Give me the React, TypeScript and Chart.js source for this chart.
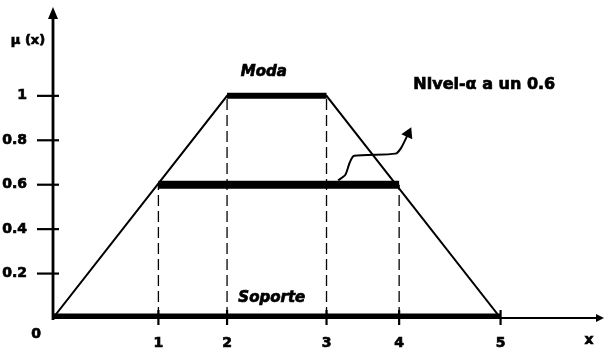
import React, { useEffect, useRef } from 'react';
import { Chart, LinearScale, registerables } from 'chart.js';

// ---------- data ----------
const TRAPEZOID_X = [0, 2, 3, 5];
const TRAPEZOID_Y = [0, 1, 1, 0];
const SUPPORT_X = [0, 5];
const SUPPORT_LEVEL = 0;
const CORE_X = [2, 3];
const CORE_LEVEL = 1;
const ALPHA_CUT_X = [1, 4];
const ALPHA_LEVEL = 0.6;
const GUIDE_X = [1, 2, 3, 4];
const GUIDE_TOP = [0.6, 1, 1, 0.6];
const X_TICKS = [1, 2, 3, 4, 5];
const Y_TICKS = [0.2, 0.4, 0.6, 0.8, 1];
const Y_TICK_LABELS = ['0.2', '0.4', '0.6', '0.8', '1'];
const POINTER_X = [3.16, 3.26, 3.32, 3.38, 3.95, 4.02, 4.09];
const POINTER_Y = [0.62, 0.645, 0.7, 0.73, 0.74, 0.766, 0.83];

const TEXT_MODA = 'Moda';
const TEXT_SOPORTE = 'Soporte';
const TEXT_NIVEL = 'Nivel-α a un 0.6';
const TEXT_Y_TITLE = 'μ (x)';
const TEXT_X_TITLE = 'x';
const TEXT_ORIGIN = '0';

// annotation anchors (data coordinates)
const MODA_AT = [2.37, 1.105];
const SOPORTE_AT = [2.45, 0.09];
const NIVEL_AT = [4.14, 1.05];

// ---------- schematic (non-uniform) x axis layout ----------
const X_MAX = 6;
const X_SCALE_BREAKS = [0, 1, 2, 3, 4, 5, 6];
const X_SCALE_FRACTIONS = [0, 0.1913, 0.3159, 0.4964, 0.6282, 0.8123, 1];

function valueToFraction(v: number): number {
  const b = X_SCALE_BREAKS, f = X_SCALE_FRACTIONS;
  if (v <= b[0]) return f[0] + ((v - b[0]) * (f[1] - f[0])) / (b[1] - b[0]);
  for (let i = 1; i < b.length; i++) {
    if (v <= b[i]) {
      const t = (v - b[i - 1]) / (b[i] - b[i - 1]);
      return f[i - 1] + t * (f[i] - f[i - 1]);
    }
  }
  const n = b.length - 1;
  return f[n] + ((v - b[n]) * (f[n] - f[n - 1])) / (b[n] - b[n - 1]);
}
function fractionToValue(d: number): number {
  const b = X_SCALE_BREAKS, f = X_SCALE_FRACTIONS;
  for (let i = 1; i < f.length; i++) {
    if (d <= f[i]) {
      const t = (d - f[i - 1]) / (f[i] - f[i - 1]);
      return b[i - 1] + t * (b[i] - b[i - 1]);
    }
  }
  return b[b.length - 1];
}

class PiecewiseScale extends LinearScale {
  static id = 'piecewise';
  static defaults = LinearScale.defaults;
  getPixelForValue(value: any) {
    if (value === null || value === undefined || isNaN(value)) return NaN;
    return (this as any).getPixelForDecimal(valueToFraction(+value));
  }
  getValueForPixel(pixel: number) {
    return fractionToValue((this as any).getDecimalForPixel(pixel));
  }
}

Chart.register(...registerables, PiecewiseScale as any);

const pts = (xs: number[], ys: number[]) => xs.map((v, i) => ({ x: v, y: ys[i] }));

const decorPlugin = {
  id: 'decor',
  afterDraw(chart: any) {
    const { ctx, chartArea } = chart;
    const x = chart.scales.x;
    const y = chart.scales.y;
    const x0 = x.getPixelForValue(0);
    const y0 = y.getPixelForValue(0);
    const yTop = chartArea.top;
    const xEnd = chartArea.right;
    ctx.save();
    ctx.strokeStyle = '#000';
    ctx.fillStyle = '#000';
    ctx.lineCap = 'butt';
    const line = (a: number, b: number, c: number, d: number) => {
      ctx.beginPath();
      ctx.moveTo(a, b);
      ctx.lineTo(c, d);
      ctx.stroke();
    };
    // y axis with arrow
    ctx.lineWidth = 2.8;
    line(x0, y0 + 2, x0, yTop + 10);
    ctx.beginPath();
    ctx.moveTo(x0, yTop);
    ctx.lineTo(x0 - 5, yTop + 12);
    ctx.lineTo(x0 + 5, yTop + 12);
    ctx.closePath();
    ctx.fill();
    // x axis with arrow
    ctx.lineWidth = 2;
    line(x0, y0, xEnd - 5, y0);
    ctx.beginPath();
    ctx.moveTo(xEnd, y0);
    ctx.lineTo(xEnd - 8, y0 - 4);
    ctx.lineTo(xEnd - 8, y0 + 4);
    ctx.closePath();
    ctx.fill();
    // y tick marks
    ctx.lineWidth = 2.2;
    Y_TICKS.forEach((v) => {
      const py = y.getPixelForValue(v);
      line(x0 - 16, py, x0 + 6, py);
    });
    // x tick marks
    X_TICKS.forEach((v) => {
      const px = x.getPixelForValue(v);
      line(px, y0 - 8, px, y0 + 7);
    });
    // texts (slightly stroked to mimic the heavy print)
    const text = (s: string, px: number, py: number) => {
      ctx.lineWidth = 0.7;
      ctx.strokeText(s, px, py);
      ctx.fillText(s, px, py);
    };
    ctx.textBaseline = 'middle';
    ctx.textAlign = 'center';
    ctx.font = 'bold 13px "DejaVu Sans"';
    text(TEXT_Y_TITLE, x0 - 25, yTop + 34);
    ctx.font = 'bold 14px "DejaVu Sans"';
    text(TEXT_ORIGIN, x0 - 17, y0 + 16);
    text(TEXT_X_TITLE, xEnd - 15, y0 + 22);
    ctx.font = 'italic bold 15px "DejaVu Sans"';
    text(TEXT_MODA, x.getPixelForValue(MODA_AT[0]), y.getPixelForValue(MODA_AT[1]));
    text(TEXT_SOPORTE, x.getPixelForValue(SOPORTE_AT[0]), y.getPixelForValue(SOPORTE_AT[1]));
    ctx.textAlign = 'left';
    ctx.font = 'bold 16px "DejaVu Sans"';
    text(TEXT_NIVEL, x.getPixelForValue(NIVEL_AT[0]), y.getPixelForValue(NIVEL_AT[1]));
    ctx.restore();
  },
};

export default function App() {
  const ref = useRef<HTMLCanvasElement | null>(null);
  useEffect(() => {
    if (!ref.current) return;
    const black = '#000';
    const guideSets = GUIDE_X.map((gx, i) => ({
      data: [
        { x: gx, y: 0 },
        { x: gx, y: GUIDE_TOP[i] },
      ],
      borderColor: black,
      borderWidth: 1.3,
      borderDash: [11, 5],
    }));
    const pointerRadius = POINTER_X.map((_, i) => (i === POINTER_X.length - 1 ? 5 : 0));
    const tickFont = { family: 'DejaVu Sans', size: 14, weight: 'bold' };
    const chart = new Chart(ref.current, {
      type: 'line',
      data: {
        datasets: [
          { data: pts(TRAPEZOID_X, TRAPEZOID_Y), borderColor: black, borderWidth: 2 },
          { data: pts(SUPPORT_X, SUPPORT_X.map(() => SUPPORT_LEVEL)), borderColor: black, borderWidth: 9 },
          { data: pts(CORE_X, CORE_X.map(() => CORE_LEVEL)), borderColor: black, borderWidth: 6 },
          { data: pts(ALPHA_CUT_X, ALPHA_CUT_X.map(() => ALPHA_LEVEL)), borderColor: black, borderWidth: 8 },
          ...guideSets,
          {
            data: pts(POINTER_X, POINTER_Y),
            borderColor: black,
            borderWidth: 2,
            tension: 0.25,
            pointRadius: pointerRadius,
            pointStyle: 'triangle',
            pointRotation: 25,
            pointBackgroundColor: black,
            pointBorderColor: black,
          },
        ] as any,
      },
      options: {
        animation: false,
        responsive: false,
        events: [],
        layout: { padding: { top: 7, right: 4, left: 0, bottom: 0 } },
        elements: { point: { radius: 0 }, line: { fill: false } },
        plugins: { legend: { display: false }, tooltip: { enabled: false } },
        scales: {
          x: {
            type: 'piecewise' as any,
            position: 'bottom',
            min: 0,
            max: X_MAX,
            grid: { display: false, drawTicks: false },
            border: { display: false },
            afterBuildTicks: (axis: any) => {
              axis.ticks = X_TICKS.map((v) => ({ value: v }));
            },
            afterFit: (s: any) => {
              s.height = 36;
              s.paddingLeft = 0;
              s.paddingRight = 0;
              s.paddingTop = 0;
              s.paddingBottom = 0;
            },
            ticks: {
              autoSkip: false,
              maxRotation: 0,
              minRotation: 0,
              padding: 17,
              color: black,
              textStrokeColor: black,
              textStrokeWidth: 0.7,
              font: tickFont,
              callback: (v: any) => String(v),
            },
          },
          y: {
            type: 'linear',
            min: 0,
            max: 1.4,
            grid: { display: false, drawTicks: false },
            border: { display: false },
            afterBuildTicks: (axis: any) => {
              axis.ticks = Y_TICKS.map((v) => ({ value: v }));
            },
            afterFit: (s: any) => {
              s.width = 53;
              s.paddingLeft = 0;
              s.paddingRight = 0;
              s.paddingTop = 0;
              s.paddingBottom = 0;
            },
            ticks: {
              autoSkip: false,
              padding: 26,
              color: black,
              textStrokeColor: black,
              textStrokeWidth: 0.7,
              font: tickFont,
              callback: (_v: any, i: number) => Y_TICK_LABELS[i],
            },
          },
        } as any,
      },
      plugins: [decorPlugin],
    });
    return () => chart.destroy();
  }, []);
  return (
    <div style={{ position: 'absolute', left: 0, top: 0, width: 611, height: 354, background: '#fff' }}>
      <canvas ref={ref} width={611} height={354} style={{ display: 'block', width: 611, height: 354 }} />
    </div>
  );
}
